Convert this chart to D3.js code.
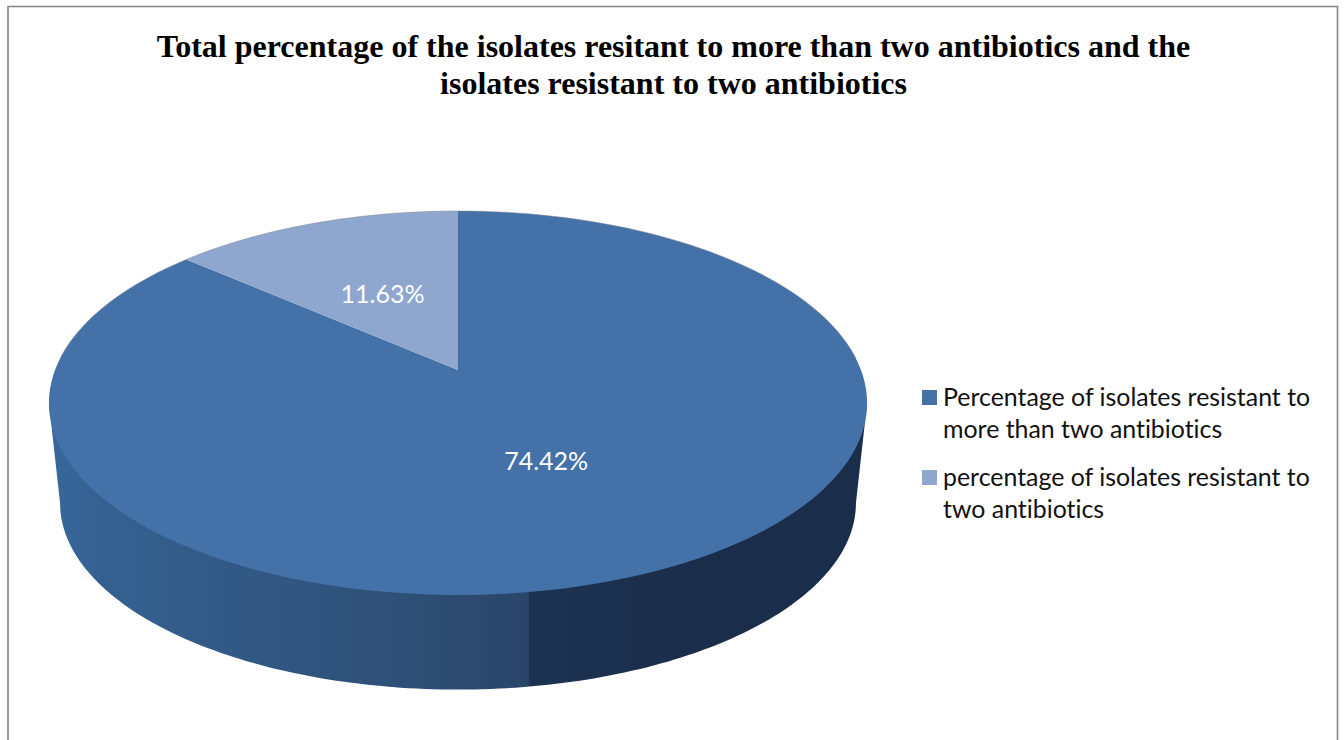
<!DOCTYPE html>
<html>
<head>
<meta charset="utf-8">
<title>Isolate resistance</title>
<script src="https://cdnjs.cloudflare.com/ajax/libs/d3/7.8.5/d3.min.js"></script>
<style>
  html, body { margin: 0; padding: 0; background: #fff; overflow: hidden; }
  svg { display: block; }
  text { font-variant-ligatures: none; }
</style>
</head>
<body>
<svg id="chart" width="1344" height="740"></svg>
<script>
// Chart content
const titleLines = [
  "Total percentage of the isolates resitant to more than two antibiotics and the",
  "isolates resistant to two antibiotics"
];
const values = [74.42, 11.63];
const valueLabels = ["74.42%", "11.63%"];
const legendLines = [
  ["Percentage of isolates resistant to", "more than two antibiotics"],
  ["percentage of isolates resistant to", "two antibiotics"]
];
const sliceColors = ["#4371a8", "#8fa7cf"];

const svg = d3.select("#chart");
const defs = svg.append("defs");

// Chart frame: open at the bottom edge of the page
svg.append("path")
  .attr("d", "M8,740V6.5H1337.5V740")
  .attr("fill", "none")
  .attr("stroke", "#858585")
  .attr("stroke-width", 1.6);

// Title
svg.append("g").selectAll("text").data(titleLines).join("text")
  .attr("x", 673.5)
  .attr("y", (d, i) => 57 + i * 37)
  .attr("text-anchor", "middle")
  .attr("font-family", "'Liberation Serif', serif")
  .attr("font-weight", "bold")
  .attr("font-size", 32)
  .attr("fill", "#000")
  .text(d => d);

// Perspective projection of a circular disc onto the page.
// Points nearer the viewer (bottom of the disc) are enlarged by the factor k.
const k = -0.172;
function project(angle, r, disc) {
  const u = r * Math.sin(angle);
  const v = -r * Math.cos(angle);
  const w = 1 + k * v;
  return [disc.cx + disc.a * u / w, disc.cy + disc.b * v / w];
}
const topDisc = { cx: 458, cy: 370, a: 403, b: 186.3 };
const baseDisc = { cx: 458, cy: 471, a: 392, b: 181 };

const line = d3.line();
const arcSamples = (start, end, disc, n = 160) =>
  d3.range(n + 1).map(i => project(start + (end - start) * i / n, 1, disc));

// Slices run clockwise from twelve o'clock
const slices = d3.pie().sort(null)(values);

// Side wall: the part of the rim that faces the viewer.
// Its upper edge is a chord hidden under the top face.
const turnAngle = Math.acos(k);
const wallStart = turnAngle, wallEnd = 2 * Math.PI - turnAngle;
const wallOutline = [
  project(wallEnd, 1, topDisc),
  ...arcSamples(wallEnd, wallStart, baseDisc),
  project(wallStart, 1, topDisc)
];

const wallGrad = defs.append("linearGradient")
  .attr("id", "wallShade")
  .attr("gradientUnits", "userSpaceOnUse")
  .attr("x1", 49).attr("x2", 867).attr("y1", 0).attr("y2", 0);
[
  [0, "#38679d"], [0.07, "#346090"], [0.2, "#335a87"],
  [0.4, "#2f5179"], [0.586, "#2a4568"], [0.587, "#1d3352"],
  [0.8, "#1a2d4a"], [1, "#1a2e4c"]
].forEach(([o, c]) => wallGrad.append("stop").attr("offset", o).attr("stop-color", c));

svg.append("path")
  .attr("d", line(wallOutline) + "Z")
  .attr("fill", "url(#wallShade)");

// Top face of each slice
svg.append("g").selectAll("path").data(slices).join("path")
  .attr("d", d => line([
    project(0, 0, topDisc),
    ...arcSamples(d.startAngle, d.endAngle, topDisc)
  ]) + "Z")
  .attr("fill", (d, i) => sliceColors[i]);

// Thin highlight along the far rim
svg.append("path")
  .attr("d", line(arcSamples(-Math.PI * 0.48, Math.PI * 0.48, topDisc)))
  .attr("fill", "none")
  .attr("stroke", "#7d8794")
  .attr("stroke-width", 0.8)
  .attr("stroke-opacity", 0.7);

// Value labels, about halfway along each slice's radius
svg.append("g").selectAll("text").data(slices).join("text")
  .attr("transform", d => {
    const [x, y] = project((d.startAngle + d.endAngle) / 2, 0.49, topDisc);
    return `translate(${x},${y})`;
  })
  .attr("text-anchor", "middle")
  .attr("dominant-baseline", "central")
  .attr("font-family", "Lato, sans-serif")
  .attr("font-size", 25)
  .attr("fill", "#fff")
  .text((d, i) => valueLabels[i]);

// Legend
const legend = svg.append("g").selectAll("g").data(legendLines).join("g")
  .attr("transform", (d, i) => `translate(922,${390 + i * 80})`);
legend.append("rect")
  .attr("width", 15).attr("height", 15)
  .attr("fill", (d, i) => sliceColors[i]);
legend.selectAll("text").data(d => d).join("text")
  .attr("x", 21)
  .attr("y", (d, i) => 15.5 + i * 32)
  .attr("font-family", "Lato, sans-serif")
  .attr("font-size", 24.9)
  .attr("fill", "#111")
  .text(d => d);
</script>
</body>
</html>
